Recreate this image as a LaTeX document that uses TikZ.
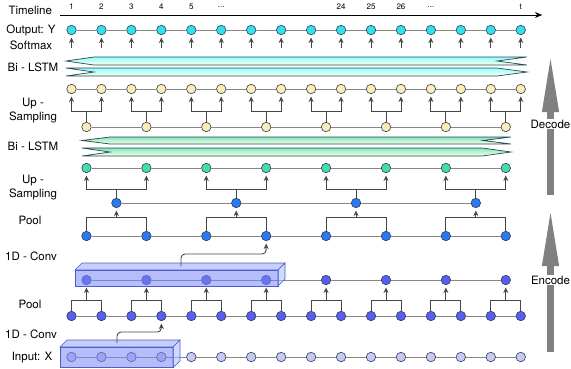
\documentclass[tikz,border=0pt]{standalone}
\usepackage{fontspec}
\setmainfont{TeX Gyre Heros}
\usetikzlibrary{arrows.meta}
\usetikzlibrary{calc}
\definecolor{cyandot}{RGB}{50,225,236}
\definecolor{yellowdot}{RGB}{250,236,180}
\definecolor{greendot}{RGB}{70,220,170}
\definecolor{bluedot}{RGB}{40,122,240}
\definecolor{indigodot}{RGB}{88,94,240}
\definecolor{lavdot}{RGB}{200,200,246}
\definecolor{dotline}{RGB}{50,60,85}
\definecolor{linkgray}{RGB}{135,135,135}
\definecolor{forkgray}{RGB}{70,70,70}
\definecolor{bandline}{RGB}{40,75,80}
\definecolor{arrowgray}{RGB}{128,128,128}
\definecolor{boxfront}{RGB}{120,135,245}
\definecolor{boxtop}{RGB}{150,165,250}
\definecolor{boxside}{RGB}{165,190,252}
\definecolor{boxline}{RGB}{80,90,200}
\tikzset{
    uparrow/.style={draw=forkgray, line width=0.9pt, -{Stealth[length=5.5pt,width=5pt]}, shorten >=2.5pt},
}
\newcommand{\uparr}{\draw[uparrow]}

\begin{document}
\begin{tikzpicture}[x=1pt, y=-1pt, font=\fontsize{11.5}{14}\selectfont,
    dot/.style={circle, draw=dotline, line width=0.6pt, inner sep=0pt, minimum size=9.5pt},
    link/.style={draw=linkgray, line width=1pt},
    fork/.style={draw=forkgray, line width=0.9pt},
    lbl/.style={align=center},
    tick/.style={font=\fontsize{8}{9}\selectfont},
    band/.style={draw=bandline, line width=0.7pt},
    bigarrow/.style={draw=arrowgray, line width=7pt, -{Triangle[length=59pt,width=15pt]}},
    cube/.style={draw=boxline, line width=0.6pt, fill opacity=0.55}]
    \useasboundingbox (0,0) rectangle (571,368);

    % Timeline
    \node[anchor=west] (timeline) at (5,10) {Timeline};
    \coordinate (tl-start) at (60,15);
    \coordinate (tl-end) at (542,15);
    \draw[line width=0.7pt, -{Stealth[length=7pt,width=6pt]}] (tl-start) -- (tl-end);
    \foreach \i/\t in {1/1,2/2,3/3,4/4,5/5,6/{...},10/24,11/25,12/26,13/{...},16/t} {
        \node[tick] (tick-\i) at ({71.5+(\i-1)*29.95},7) {\t};
    }

    % Row labels
    \node[lbl] (lbl-y) at (31,30) {Output: Y};
    \node[lbl] (lbl-sm) at (31,45) {Softmax};
    \node[lbl] (lbl-lstm1) at (33,67) {Bi - LSTM};
    \node[lbl] (lbl-up1) at (33,111) {Up -\\Sampling};
    \node[lbl] (lbl-lstm2) at (33,146) {Bi - LSTM};
    \node[lbl] (lbl-up2) at (33,188) {Up -\\Sampling};
    \node[lbl] (lbl-pool2) at (30,220) {Pool};
    \node[lbl] (lbl-conv2) at (31,256) {1D - Conv};
    \node[lbl] (lbl-pool1) at (30,304) {Pool};
    \node[lbl] (lbl-conv1) at (31,334) {1D - Conv};
    \node[lbl] (lbl-x) at (32,358) {Input: X};

    % Bi-LSTM bands
    \shade[band, top color=cyan!45, bottom color=yellow!8]
        (66,61) -- (94,57) -- (527,57) -- (497,61) -- (527,65) -- (94,65) -- cycle;
    \shade[band, top color=cyan!45, bottom color=yellow!8]
        (66,68) -- (497,68) -- (527,72) -- (497,76) -- (66,76) -- (94,72) -- cycle;
    \shade[band, top color=greendot!70, bottom color=yellow!10]
        (82,140.5) -- (110,137) -- (511,137) -- (483,140.5) -- (511,144) -- (110,144) -- cycle;
    \shade[band, top color=greendot!70, bottom color=yellow!10]
        (82,148) -- (482,148) -- (511,152) -- (482,156) -- (82,156) -- (110,152) -- cycle;

    % Rows of 16
    \foreach \i in {1,...,16} {
        \node[dot, fill=cyandot] (Y-\i) at ({71.5+(\i-1)*29.95},30) {};
        \node[dot, fill=yellowdot] (U1-\i) at ({71.5+(\i-1)*29.95},89) {};
        \node[dot, fill=indigodot] (P1-\i) at ({71.5+(\i-1)*29.95},316) {};
        \node[dot, fill=lavdot] (X-\i) at ({71.5+(\i-1)*29.95},357) {};
    }
    % Rows of 8
    \foreach \k in {1,...,8} {
        \node[dot, fill=yellowdot] (U2-\k) at ({71.5+(2*\k-1.5)*29.95},127) {};
        \node[dot, fill=greendot] (G-\k) at ({71.5+(2*\k-1.5)*29.95},168) {};
        \node[dot, fill=bluedot] (P2-\k) at ({71.5+(2*\k-1.5)*29.95},236) {};
        \node[dot, fill=indigodot] (C-\k) at ({71.5+(2*\k-1.5)*29.95},280) {};
    }
    % Row of 4
    \foreach \j in {1,...,4} {
        \node[dot, fill=bluedot] (B-\j) at ({71.5+(4*\j-2.5)*29.95},203) {};
    }

    % Links along the rows
    \foreach \i [count=\n from 2] in {1,...,15} {
        \draw[link] (Y-\i) -- (Y-\n);
        \draw[link] (U1-\i) -- (U1-\n);
        \draw[link] (P1-\i) -- (P1-\n);
        \draw[link] (X-\i) -- (X-\n);
    }
    \foreach \k [count=\n from 2] in {1,...,7} {
        \draw[link] (U2-\k) -- (U2-\n);
        \draw[link] (G-\k) -- (G-\n);
        \draw[link] (P2-\k) -- (P2-\n);
        \draw[link] (C-\k) -- (C-\n);
    }
    \foreach \j [count=\n from 2] in {1,...,3} {
        \draw[link] (B-\j) -- (B-\n);
    }

    % Softmax
    \foreach \i in {1,...,16} {
        \uparr ([yshift=-13pt]Y-\i.south) -- (Y-\i.south);
    }

    % Up-sampling and pooling forks
    \foreach \k in {1,...,8} {
        \pgfmathtruncatemacro{\a}{2*\k-1}
        \pgfmathtruncatemacro{\b}{2*\k}
        \uparr (U2-\k.north) -- (U2-\k.north |- 0,111) -| (U1-\a.south);
        \uparr (U2-\k.north) -- (U2-\k.north |- 0,111) -| (U1-\b.south);
        \draw[fork] (P1-\a.north) |- (P1-\b.north |- 0,300) -- (P1-\b.north);
        \uparr (C-\k.south |- 0,300) -- (C-\k.south);
    }
    \foreach \j in {1,...,4} {
        \pgfmathtruncatemacro{\a}{2*\j-1}
        \pgfmathtruncatemacro{\b}{2*\j}
        \uparr (B-\j.north) -- (B-\j.north |- 0,189) -| (G-\a.south);
        \uparr (B-\j.north) -- (B-\j.north |- 0,189) -| (G-\b.south);
        \draw[fork] (P2-\a.north) |- (P2-\b.north |- 0,217) -- (P2-\b.north);
        \uparr (B-\j.south |- 0,217) -- (B-\j.south);
    }

    % Convolution windows
    \fill[boxfront, cube] (75,270) rectangle (278,286);
    \fill[boxtop, cube] (75,270) -- (82,263) -- (285,263) -- (278,270) -- cycle;
    \fill[boxside, cube] (278,270) -- (285,263) -- (285,279) -- (278,286) -- cycle;
    \fill[boxfront, cube] (60,347) rectangle (173,367.5);
    \fill[boxtop, cube] (60,347) -- (67,340) -- (180,340) -- (173,347) -- cycle;
    \fill[boxside, cube] (173,347) -- (180,340) -- (180,361) -- (173,367.5) -- cycle;

    \coordinate (xconv) at (117,343);
    \coordinate (cconv) at (181,266);
    \draw[uparrow, rounded corners=4pt] (xconv) -- (xconv |- 0,332) -| (P1-4.south);
    \draw[uparrow, rounded corners=4pt] (cconv) -- (cconv |- 0,254) -| (P2-4.south);

    % Decode / Encode
    \coordinate (dec-from) at (550.5,195);
    \coordinate (dec-to) at (550.5,53);
    \coordinate (enc-from) at (550.5,352);
    \coordinate (enc-to) at (550.5,207);
    \draw[bigarrow] (dec-from) -- (dec-to);
    \draw[bigarrow] (enc-from) -- (enc-to);
    \node[fill=white, inner sep=1pt] (decode) at (550.5,124) {Decode};
    \node[fill=white, inner sep=1pt] (encode) at (550.5,280) {Encode};
\end{tikzpicture}
\end{document}
